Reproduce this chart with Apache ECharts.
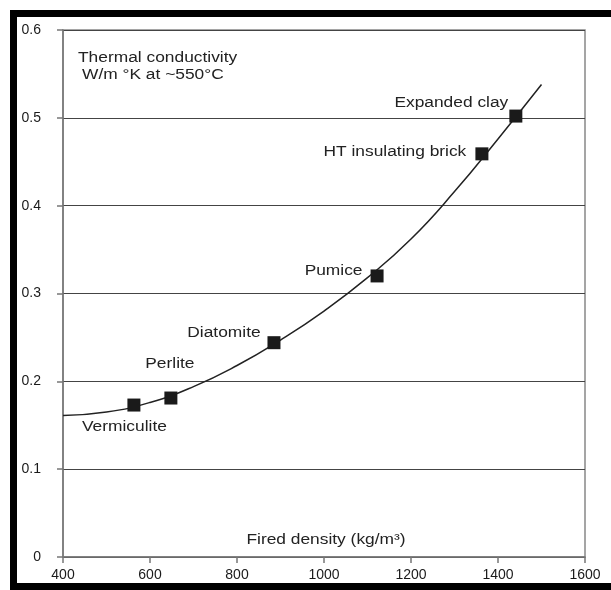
<!DOCTYPE html>
<html><head><meta charset="utf-8">
<script src="https://cdn.jsdelivr.net/npm/echarts@6/dist/echarts.min.js"></script>
<style>html,body{margin:0;padding:0;background:#fff}#c{width:611px;height:590px}</style>
</head><body><div id="c"></div>
<script>
// Named data
var materials = ["Vermiculite","Perlite","Diatomite","Pumice","HT insulating brick","Expanded clay"];
var density = [563, 648, 885, 1122, 1363, 1441];
var conductivity = [0.173, 0.181, 0.244, 0.320, 0.459, 0.502];
var curveX = [400, 500, 600, 700, 800, 900, 1000, 1100, 1200, 1300, 1400, 1500];
var curveY = [0.161, 0.165, 0.176, 0.194, 0.218, 0.247, 0.280, 0.318, 0.362, 0.416, 0.476, 0.538];
var xTicks = [400, 600, 800, 1000, 1200, 1400, 1600];
var yTicks = [0, 0.1, 0.2, 0.3, 0.4, 0.5, 0.6];
var yTitleLines = ["Thermal conductivity", "W/m °K at ~550°C"];
var xTitle = "Fired density (kg/m³)";

var labelOffsets = [[-9.5,22],[-1,-34],[-50,-10],[-43.5,-5],[-87,-2],[-64.5,-13]];
var font = "'Liberation Sans', Arial, sans-serif";
var SX = 1.24;

var chart = echarts.init(document.getElementById('c'), null, {renderer:'canvas'});
var option = {
  animation: false,
  grid: {left: 63, right: 26, top: 30, bottom: 33, show: true, borderColor: '#888', borderWidth: 1.5, backgroundColor: 'transparent'},
  xAxis: {
    type: 'value', min: xTicks[0], max: xTicks[xTicks.length-1], interval: 200,
    axisLine: {show: true, lineStyle: {color: '#777', width: 1.5}},
    axisTick: {show: true, length: 6, lineStyle: {color: '#777', width: 1.5}},
    axisLabel: {color: '#1a1a1a', fontSize: 14, fontFamily: font, margin: 11, formatter: function(v){return String(v);}},
    splitLine: {show: false}
  },
  yAxis: {
    type: 'value', min: yTicks[0], max: yTicks[yTicks.length-1], interval: 0.1,
    axisLine: {show: true, lineStyle: {color: '#777', width: 1.5}},
    axisTick: {show: true, length: 6, lineStyle: {color: '#777', width: 1.5}},
    axisLabel: {color: '#1a1a1a', fontSize: 14, fontFamily: font, margin: 22, formatter: function(v){return String(v);}},
    splitLine: {show: true, lineStyle: {color: '#444', width: 1}}
  },
  series: [
    {
      type: 'line', smooth: true, showSymbol: false, silent: true,
      data: curveX.map(function(x,i){return [x, curveY[i]];}),
      lineStyle: {color: '#222', width: 1.5}, z: 3
    },
    {
      type: 'scatter', symbol: 'rect', symbolSize: 13,
      itemStyle: {color: '#1a1a1a', opacity: 1}, z: 4,
      data: density.map(function(x,i){ return {value: [x, conductivity[i]], name: materials[i]}; })
    }
  ]
};
chart.setOption(option);

function txt(x, y, s, align) {
  return {type: 'text', x: x, y: y, scaleX: SX, z: 10,
    style: {x: 0, y: 0, text: s, font: '14px ' + font, fill: '#222', align: align || 'center', verticalAlign: 'middle'}};
}
var g = [
  {type: 'rect', shape: {x: 13.5, y: 13.5, width: 620, height: 573}, style: {fill: 'none', stroke: '#000', lineWidth: 7}, z: 100},
  txt(78, 58, yTitleLines[0], 'left'),
  txt(82, 75, yTitleLines[1], 'left'),
  txt(326, 540, xTitle, 'center')
];
density.forEach(function(x, i){
  var p = chart.convertToPixel({gridIndex: 0}, [x, conductivity[i]]);
  g.push(txt(p[0] + labelOffsets[i][0], p[1] + labelOffsets[i][1], materials[i], 'center'));
});
chart.setOption({graphic: g});
</script></body></html>
